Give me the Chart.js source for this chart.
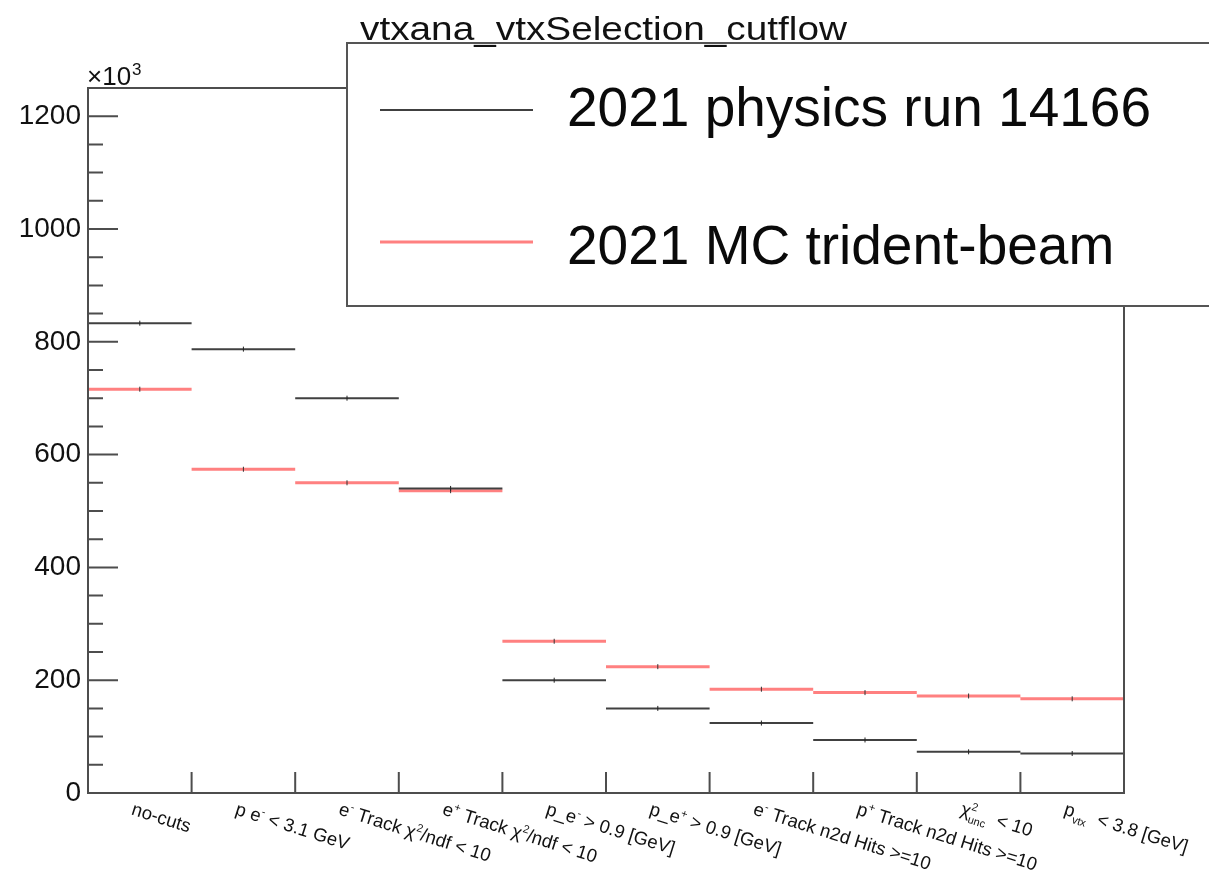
<!DOCTYPE html>
<html>
<head>
<meta charset="utf-8">
<title>vtxana_vtxSelection_cutflow</title>
<script src="https://cdn.jsdelivr.net/npm/chart.js@4.4.1/dist/chart.umd.min.js"></script>
<style>
  html, body { margin: 0; padding: 0; background: #fff; }
  #wrap { width: 1209px; height: 895px; position: relative; }
</style>
</head>
<body>
<div id="wrap"><canvas id="cutflow"></canvas></div>
<script>
// cut names, ROOT-style markup: ^{..} superscript, _{..} subscript
const cutNames = [
  'no-cuts',
  'p e^{-} < 3.1 GeV',
  'e^{-} Track χ^{2}/ndf < 10',
  'e^{+} Track χ^{2}/ndf < 10',
  'p_e^{-} > 0.9 [GeV]',
  'p_e^{+} > 0.9 [GeV]',
  'e^{-} Track n2d Hits >=10',
  'p^{+} Track n2d Hits >=10',
  'χ^{2}_{unc}  < 10',
  'p_{vtx}  < 3.8 [GeV]'
];

// events passing each cut, in units of 10^3
const dataRun14166 = [833, 787, 700, 540, 200, 150, 124, 94, 73, 70];
const mcTridentBeam = [716, 574, 550, 536, 269, 224, 184, 178, 172, 167];

const yLabelTicks = [0, 200, 400, 600, 800, 1000, 1200];
const seriesNames = ['2021 physics run 14166', '2021 MC trident-beam'];
const histTitle = 'vtxana_vtxSelection_cutflow';

const FONT = '"Liberation Sans", Arial, Helvetica, sans-serif';
const FRAME = '#4d4d4d';
const BLACK_LINE = '#404040';
const RED_LINE = '#ff8080';

// one horizontal segment per bin, broken by a null between bins
function binSegments(values) {
  const pts = [];
  values.forEach((v, i) => {
    pts.push({ x: i, y: v }, { x: i + 0.5, y: v }, { x: i + 1, y: v }, { x: i + 1, y: null });
  });
  return pts;
}

function parseRich(str) {
  const out = [];
  let buf = '';
  for (let i = 0; i < str.length; i++) {
    const c = str[i];
    if ((c === '^' || c === '_') && str[i + 1] === '{') {
      if (buf) { out.push({ t: buf, mode: 'n' }); buf = ''; }
      const end = str.indexOf('}', i);
      out.push({ t: str.slice(i + 2, end), mode: c === '^' ? 'sup' : 'sub' });
      i = end;
    } else {
      buf += c;
    }
  }
  if (buf) out.push({ t: buf, mode: 'n' });
  return out;
}

function drawRich(ctx, str, size) {
  let x = 0;
  let prev = null;
  let supStart = 0;
  parseRich(str).forEach(seg => {
    const small = seg.mode !== 'n';
    ctx.font = (small ? Math.round(size * 0.62) : size) + 'px ' + FONT;
    let dy = 0;
    if (seg.mode === 'sup') { dy = -size * 0.42; supStart = x; }
    if (seg.mode === 'sub') {
      dy = size * 0.3;
      if (prev && prev.mode === 'sup') x = supStart; // stack under superscript
    }
    ctx.fillText(seg.t, x, dy);
    const w = ctx.measureText(seg.t).width;
    x = (seg.mode === 'sub' && prev && prev.mode === 'sup') ? Math.max(x + w, prev.end) : x + w;
    prev = { mode: seg.mode, end: x };
  });
}

const rootStyle = {
  id: 'rootStyle',
  afterDatasetsDraw(chart) {
    const { ctx, chartArea: a, scales } = chart;
    const xs = scales.x, ys = scales.y;
    ctx.save();

    // frame and inward ticks
    ctx.strokeStyle = FRAME;
    ctx.lineWidth = 2;
    ctx.strokeRect(a.left, a.top, a.right - a.left, a.bottom - a.top);
    ctx.beginPath();
    ys.ticks.forEach(t => {
      const y = ys.getPixelForValue(t.value);
      const len = t.value % 200 === 0 ? 30 : 15;
      ctx.moveTo(a.left, y);
      ctx.lineTo(a.left + len, y);
    });
    for (let i = 1; i < cutNames.length; i++) {
      const x = xs.getPixelForValue(i);
      ctx.moveTo(x, a.bottom);
      ctx.lineTo(x, a.bottom - 21);
    }
    ctx.stroke();

    // slanted bin labels
    ctx.fillStyle = '#111';
    ctx.textBaseline = 'alphabetic';
    ctx.textAlign = 'left';
    const ang = 17.5 * Math.PI / 180;
    cutNames.forEach((name, i) => {
      const cx = xs.getPixelForValue(i + 0.5) - 5;
      ctx.save();
      ctx.translate(cx, a.bottom + 8);
      ctx.rotate(ang);
      ctx.translate(0, 14);
      drawRich(ctx, name, 18.5);
      ctx.restore();
    });

    // exponent of the y axis
    ctx.fillStyle = '#111';
    ctx.font = '26px ' + FONT;
    ctx.fillText('×10', a.left - 1, a.top - 3);
    const w10 = ctx.measureText('×10').width;
    ctx.font = '17px ' + FONT;
    ctx.fillText('3', a.left - 1 + w10 + 1, a.top - 13);

    // legend box
    ctx.fillStyle = '#fff';
    ctx.fillRect(347, 43, 900, 263);
    ctx.strokeStyle = '#555';
    ctx.lineWidth = 2;
    ctx.strokeRect(347, 43, 900, 263);
    const rows = [
      { y: 110, color: BLACK_LINE, width: 2, base: 126 },
      { y: 242, color: RED_LINE, width: 3, base: 264 }
    ];
    ctx.font = '55px ' + FONT;
    rows.forEach((r, k) => {
      ctx.strokeStyle = r.color;
      ctx.lineWidth = r.width;
      ctx.beginPath();
      ctx.moveTo(380, r.y);
      ctx.lineTo(533, r.y);
      ctx.stroke();
      ctx.fillStyle = '#0a0a0a';
      ctx.fillText(seriesNames[k], 567, r.base);
    });

    // histogram title, stretched to the pad width it had
    ctx.fillStyle = '#111';
    ctx.font = '33px ' + FONT;
    const tw = ctx.measureText(histTitle).width;
    ctx.save();
    ctx.translate(360, 40);
    ctx.scale(487 / tw, 1);
    ctx.fillText(histTitle, 0, 0);
    ctx.restore();

    ctx.restore();
  }
};

new Chart(document.getElementById('cutflow'), {
  type: 'line',
  data: {
    datasets: [
      {
        label: seriesNames[0],
        data: binSegments(dataRun14166),
        borderColor: BLACK_LINE,
        borderWidth: 2,
        pointStyle: 'line',
        rotation: 90,
        pointRadius: c => (c.dataIndex % 4 === 1 ? 2.5 : 0),
        pointBorderColor: '#222',
        pointBorderWidth: 1,
        spanGaps: false
      },
      {
        label: seriesNames[1],
        data: binSegments(mcTridentBeam),
        borderColor: RED_LINE,
        borderWidth: 3,
        pointStyle: 'line',
        rotation: 90,
        pointRadius: c => (c.dataIndex % 4 === 1 ? 2.5 : 0),
        pointBorderColor: '#333',
        pointBorderWidth: 1,
        spanGaps: false
      }
    ]
  },
  options: {
    responsive: true,
    maintainAspectRatio: false,
    animation: false,
    events: [],
    layout: { padding: { top: 88, right: 85, left: 0, bottom: 0 } },
    plugins: { legend: { display: false }, tooltip: { enabled: false }, title: { display: false } },
    scales: {
      x: {
        type: 'linear',
        min: 0,
        max: cutNames.length,
        grid: { display: false, drawTicks: false },
        border: { display: false },
        ticks: { display: false },
        afterFit: s => { s.height = 102; }
      },
      y: {
        min: 0,
        max: 1250,
        grid: { display: false, drawTicks: false },
        border: { display: false },
        ticks: {
          stepSize: 50,
          autoSkip: false,
          padding: 7,
          color: '#111',
          font: { family: FONT, size: 28 },
          callback: v => (yLabelTicks.includes(v) ? String(v) : '')
        },
        afterFit: s => { s.width = 88; }
      }
    }
  },
  plugins: [rootStyle]
});
</script>
</body>
</html>
